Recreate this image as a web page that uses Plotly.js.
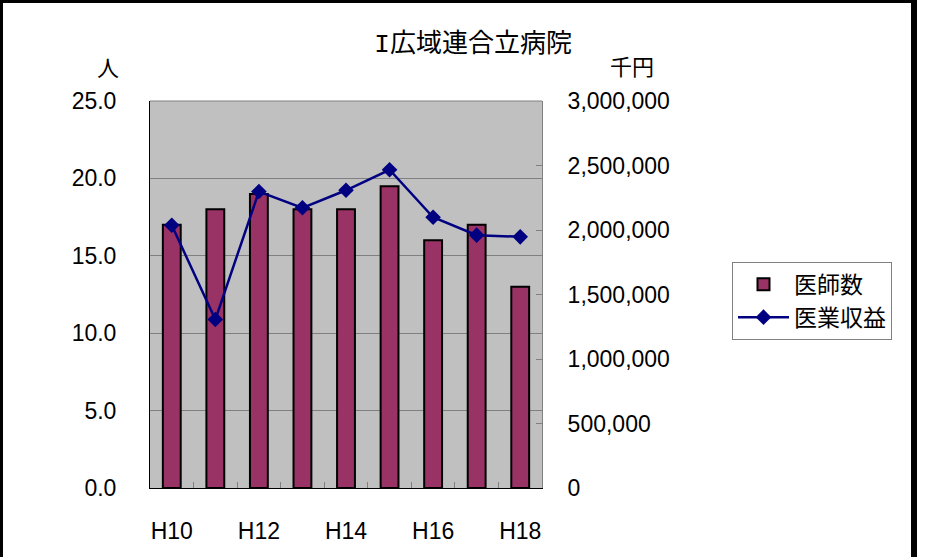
<!DOCTYPE html>
<html>
<head>
<meta charset="utf-8">
<script src="https://cdn.plot.ly/plotly-3.0.1.min.js"></script>
<style>
  html, body { margin: 0; padding: 0; background: #fff; }
  #wrap { position: relative; width: 937px; height: 557px; }
  #chart { position: absolute; left: 0; top: 0; width: 937px; height: 557px; }
  #frame { position: absolute; left: 0; top: 0; width: 908px; height: 600px;
           border-left: 3px solid #000; border-top: 3px solid #000; border-right: 6px solid #000;
           pointer-events: none; }
</style>
</head>
<body>
<div id="wrap">
  <div id="chart"></div>
  <div id="frame"></div>
</div>
<script>
const titleLead = "I";
const titleRest = "広域連合立病院";
const categories = ["H10", "H11", "H12", "H13", "H14", "H15", "H16", "H17", "H18"];
const doctors = [17, 18, 19, 18, 18, 19.5, 16, 17, 13];
const revenue = [2037000, 1306000, 2298000, 2172000, 2308000, 2467000, 2099000, 1960000, 1947000];
const tickCats = ["H10", "H12", "H14", "H16", "H18"];
const seriesNames = ["医師数", "医業収益"];
const leftUnit = "人";
const rightUnit = "千円";

const FONT = "Liberation Sans, Arial, Noto Sans CJK JP, sans-serif";
const JFONT = "Noto Sans CJK JP, sans-serif";

const traces = [
  {
    type: "bar",
    name: seriesNames[0],
    x: categories,
    y: doctors,
    xaxis: "x",
    yaxis: "y",
    marker: { color: "#993366", line: { color: "#000000", width: 2 } },
    hoverinfo: "skip"
  },
  {
    type: "scatter",
    mode: "lines+markers",
    name: seriesNames[1],
    x: categories,
    y: revenue,
    xaxis: "x",
    yaxis: "y2",
    line: { color: "#000080", width: 2.5 },
    marker: { symbol: "diamond", size: 12, color: "#000080" },
    hoverinfo: "skip"
  },
  {
    type: "scatter",
    mode: "markers",
    x: [0],
    y: [0],
    xaxis: "x2",
    yaxis: "y",
    marker: { opacity: 0 },
    showlegend: false,
    hoverinfo: "skip"
  }
];

const layout = {
  width: 937,
  height: 557,
  paper_bgcolor: "#ffffff",
  plot_bgcolor: "#c0c0c0",
  margin: { l: 150, r: 395, t: 101, b: 68.5, pad: 0 },
  font: { family: FONT, size: 23, color: "#000000" },
  showlegend: true,
  title: {
    text: "<span style=\"font-family:'Liberation Mono',monospace\">" + titleLead + "</span>" + titleRest,
    x: 0.505,
    xanchor: "center",
    y: 1 - 43 / 557,
    yanchor: "middle",
    font: { family: JFONT, size: 26, color: "#000000" }
  },
  bargap: 0.59,
  xaxis: {
    type: "category",
    range: [-0.5, 8.5],
    tickmode: "array",
    tickvals: tickCats,
    ticktext: tickCats,
    ticks: "",
    showline: true,
    linecolor: "#000000",
    linewidth: 1,
    showgrid: false,
    zeroline: false,
    tickfont: { family: FONT, size: 23 },
    ticklabelstandoff: 22,
    fixedrange: true
  },
  xaxis2: {
    overlaying: "x",
    anchor: "y",
    range: [-0.5, 8.5],
    tickmode: "linear",
    tick0: -0.5,
    dtick: 1,
    ticks: "inside",
    ticklen: 6,
    tickcolor: "#808080",
    tickwidth: 1,
    showticklabels: false,
    showgrid: false,
    zeroline: false,
    showline: false
  },
  yaxis: {
    range: [0, 25],
    dtick: 5,
    tick0: 0,
    tickformat: ".1f",
    showgrid: true,
    gridcolor: "#808080",
    gridwidth: 1,
    zeroline: false,
    showline: true,
    linecolor: "#000000",
    linewidth: 1,
    ticks: "",
    tickfont: { family: FONT, size: 23 },
    ticklabelstandoff: 28,
    fixedrange: true
  },
  yaxis2: {
    overlaying: "y",
    side: "right",
    range: [0, 3000000],
    dtick: 500000,
    tick0: 0,
    tickformat: ",d",
    showgrid: false,
    zeroline: false,
    showline: true,
    linecolor: "#808080",
    linewidth: 1,
    ticks: "inside",
    ticklen: 6,
    tickcolor: "#808080",
    tickfont: { family: FONT, size: 23 },
    ticklabelstandoff: 20,
    fixedrange: true
  },
  shapes: [
    { type: "line", xref: "paper", yref: "paper", x0: 0, x1: 1, y0: 1, y1: 1,
      line: { color: "#808080", width: 1 } }
  ],
  annotations: [
    { text: leftUnit, xref: "paper", yref: "paper", x: (108 - 150) / 392, y: (488.5 - 66) / 387.5,
      xanchor: "center", yanchor: "middle", showarrow: false,
      font: { family: JFONT, size: 22 } },
    { text: rightUnit, xref: "paper", yref: "paper", x: (632 - 150) / 392, y: (488.5 - 65) / 387.5,
      xanchor: "center", yanchor: "middle", showarrow: false,
      font: { family: JFONT, size: 22 } }
  ],
  legend: {
    x: (732 - 150) / 392,
    xanchor: "left",
    y: (488.5 - 262) / 387.5,
    yanchor: "top",
    bgcolor: "#ffffff",
    bordercolor: "#808080",
    borderwidth: 1,
    font: { family: JFONT, size: 23 },
    itemwidth: 51,
    tracegroupgap: 0
  }
};

Plotly.newPlot("chart", traces, layout, { staticPlot: true, displayModeBar: false });
</script>
</body>
</html>
